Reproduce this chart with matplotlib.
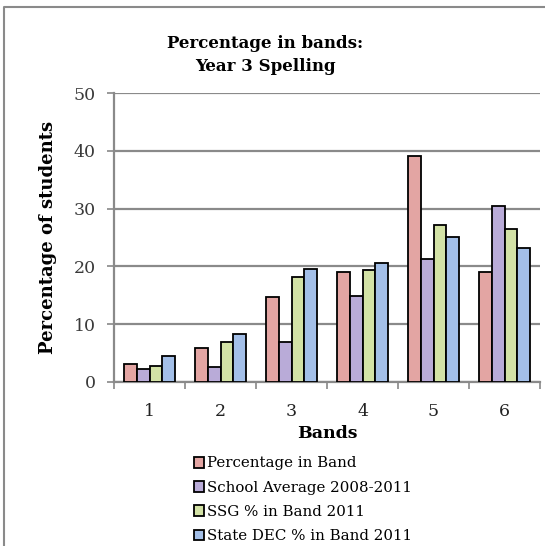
import matplotlib.pyplot as plt
import numpy as np
from matplotlib.lines import Line2D

bands = ['1', '2', '3', '4', '5', '6']
series_names = ['Percentage in Band', 'School Average 2008-2011',
                'SSG % in Band 2011', 'State DEC % in Band 2011']
pct_in_band = [3.0, 5.9, 14.6, 19.0, 39.2, 19.0]
school_avg = [2.2, 2.5, 6.8, 14.9, 21.2, 30.5]
ssg_pct = [2.7, 6.9, 18.1, 19.4, 27.2, 26.4]
state_dec = [4.4, 8.2, 19.5, 20.5, 25.0, 23.2]
colors = ['#e3a5a3', '#b9abd8', '#d3e2a6', '#a3bfe8']

plt.rcParams['font.family'] = ['DejaVu Serif']

fig = plt.figure(figsize=(5.45, 5.46), dpi=100)
ax = fig.add_axes([114 / 545, 1 - 381.7 / 546, 426 / 545, 288.4 / 546])

x = np.arange(len(bands))
w = 0.18
all_series = [pct_in_band, school_avg, ssg_pct, state_dec]
for i, (vals, name, c) in enumerate(zip(all_series, series_names, colors)):
    ax.bar(x + (i - 1.5) * w, vals, w, color=c, edgecolor='black',
           linewidth=1.3, label=name, zorder=3)

ax.set_ylim(0, 50)
ax.set_xlim(-0.5, len(bands) - 0.5)
ax.set_yticks(range(0, 51, 10))
ax.set_xticks(x)
ax.set_xticklabels(bands)
ax.set_xticks(np.arange(-0.5, len(bands), 1), minor=True)
ax.tick_params(axis='x', which='major', length=0, pad=15, labelsize=12.5,
               colors='#222222')
ax.tick_params(axis='x', which='minor', length=5, color='#888888', width=1.2)
ax.tick_params(axis='y', length=5, color='#888888', width=1.2, pad=8,
               labelsize=12.5, labelcolor='#3a3a3a')
ax.grid(axis='y', color='#8a8a8a', linewidth=1.6, zorder=0)
for s in ['top', 'right']:
    ax.spines[s].set_visible(False)
for s in ['left', 'bottom']:
    ax.spines[s].set_color('#8a8a8a')
    ax.spines[s].set_linewidth(1.6)

ax.set_ylabel('Percentage of students', fontsize=13, fontweight='bold',
              labelpad=12)
ax.set_xlabel('Bands', fontsize=12.5, fontweight='bold', labelpad=4)
fig.text(0.487, 1 - 55 / 546, 'Percentage in bands:\nYear 3 Spelling',
         ha='center', va='center', fontsize=12, fontweight='bold',
         linespacing=1.5)

fig.legend(loc='upper left', bbox_to_anchor=(186 / 545, 1 - 449 / 546),
           frameon=False, fontsize=10.8, handlelength=0.7, handleheight=0.7,
           handletextpad=0.2, labelspacing=0.68, borderpad=0)

# chart-area border (only top and left edges are visible in the source)
fig.lines.append(Line2D([4 / 545, 4 / 545, 1], [0, 1 - 7 / 546, 1 - 7 / 546],
                        transform=fig.transFigure, color='#8a8a8a',
                        linewidth=1.5))

fig.savefig('out.png', dpi=100)
